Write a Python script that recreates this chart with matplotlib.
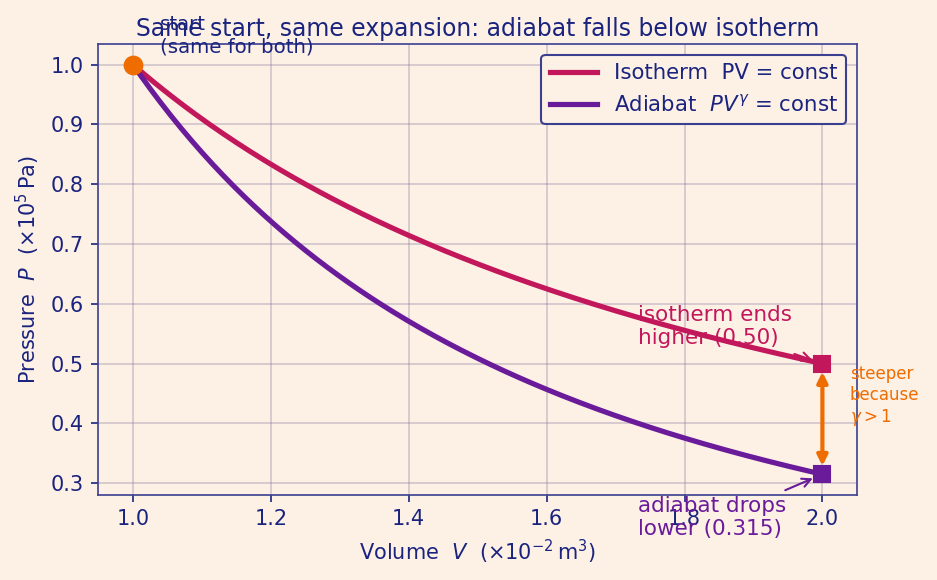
import numpy as np
import matplotlib
matplotlib.use('Agg')
import matplotlib.pyplot as plt

# data
V0, P0 = 1.0, 1.0
V1 = 2.0
gamma = 5.0 / 3.0
V = np.linspace(V0, V1, 200)
P_iso = P0 * V0 / V
P_adi = P0 * (V0 / V) ** gamma
P_iso_end = 0.50
P_adi_end = 0.315

bg = '#fdf1e6'
navy = '#1a237e'
c_iso = '#c2185b'
c_adi = '#6a1b9a'
c_or = '#ef6c00'

fig, ax = plt.subplots(figsize=(6.25, 3.867), dpi=150)
fig.patch.set_facecolor(bg)
ax.set_facecolor(bg)

ax.plot(V, P_iso, color=c_iso, lw=2.5, label='Isotherm  PV = const', zorder=3)
ax.plot(V, P_adi, color=c_adi, lw=2.5, label=r'Adiabat  $PV^{\gamma}$ = const', zorder=3)
ax.plot([V0], [P0], 'o', color=c_or, ms=8.5, zorder=5)
ax.plot([V1], [P_iso_end], 's', color=c_iso, ms=7.5, zorder=5)
ax.plot([V1], [P_adi_end], 's', color=c_adi, ms=7.5, zorder=5)

ax.annotate('', xy=(V1, P_adi_end), xytext=(V1, P_iso_end),
            arrowprops=dict(arrowstyle='<|-|>', color=c_or, lw=2, mutation_scale=10,
                            shrinkA=4, shrinkB=4), zorder=4)

ax.annotate('start\n(same for both)', xy=(V0, P0), xytext=(13, 4),
            textcoords='offset points', color=navy, fontsize=9.5, va='bottom')
ax.annotate('isotherm ends\nhigher (0.50)', xy=(V1, P_iso_end), xytext=(1.733, 0.532),
            color=c_iso, fontsize=10.3,
            arrowprops=dict(arrowstyle='->', color=c_iso, lw=1, shrinkB=5))
ax.annotate('adiabat drops\nlower (0.315)', xy=(V1, P_adi_end), xytext=(1.733, 0.213),
            color=c_adi, fontsize=10.3, annotation_clip=False,
            arrowprops=dict(arrowstyle='->', color=c_adi, lw=1, shrinkB=5,
                            relpos=(0.9, 1.0)))
ax.text(2.04, 0.445, 'steeper\nbecause\n$\\gamma > 1$', color=c_or, fontsize=8,
        va='center', ha='left')

ax.set_title('Same start, same expansion: adiabat falls below isotherm', color=navy,
             fontsize=11.3, pad=4)
ax.set_xlabel(r'Volume  $V$  ($\times10^{-2}\,\mathrm{m}^3$)', color=navy, fontsize=10)
ax.set_ylabel(r'Pressure  $P$  ($\times10^{5}\,\mathrm{Pa}$)', color=navy, fontsize=10)
ax.tick_params(colors=navy, labelsize=10)
for s in ax.spines.values():
    s.set_color('#3a3f8f')
ax.grid(True, color='#7a6f9a', alpha=0.35, lw=0.8)
ax.set_xticks([1.0, 1.2, 1.4, 1.6, 1.8, 2.0])
ax.set_yticks([0.3, 0.4, 0.5, 0.6, 0.7, 0.8, 0.9, 1.0])

leg = ax.legend(loc='upper right', fontsize=10.2, facecolor=bg, edgecolor='#3a3f8f',
                framealpha=1, fancybox=True, handlelength=2.2)
for t in leg.get_texts():
    t.set_color(navy)
leg.get_frame().set_linewidth(1)

fig.subplots_adjust(left=0.105, right=0.914, top=0.924, bottom=0.147)
fig.savefig('out.png', dpi=150, facecolor=bg)
